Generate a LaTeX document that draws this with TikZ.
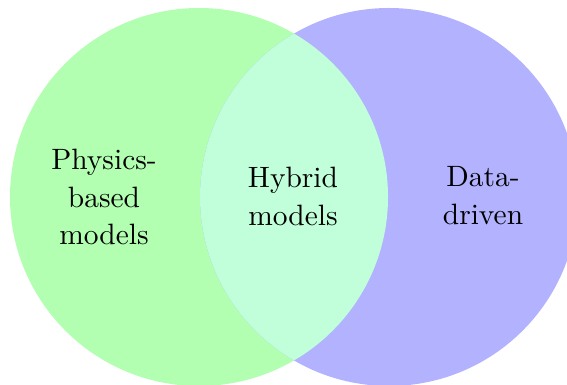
\documentclass[tikz,border=0pt]{standalone}
\begin{document}
\begin{tikzpicture}[x=0.3533pt,y=0.3533pt,
  setlabel/.style={align=center,font=\fontsize{10.4}{13.4}\selectfont,inner sep=0pt}]
  \definecolor{overlapmint}{RGB}{192,255,217}
  \useasboundingbox (0,0) rectangle (567,-385);
  % the two sets
  \fill[green!30] (199,-197) circle (189);
  \fill[blue!30] (389,-197) circle (189);
  % their intersection
  \begin{scope}
    \clip (199,-197) circle (189);
    \fill[overlapmint] (389,-197) circle (189);
  \end{scope}
  % labels
  \node[setlabel] (phys) at (104,-197) {Physics-\\based\\models};
  \node[setlabel] (hyb) at (293,-196) {Hybrid\\models};
  \node[setlabel] (data) at (483,-196) {Data-\\driven};
\end{tikzpicture}
\end{document}
